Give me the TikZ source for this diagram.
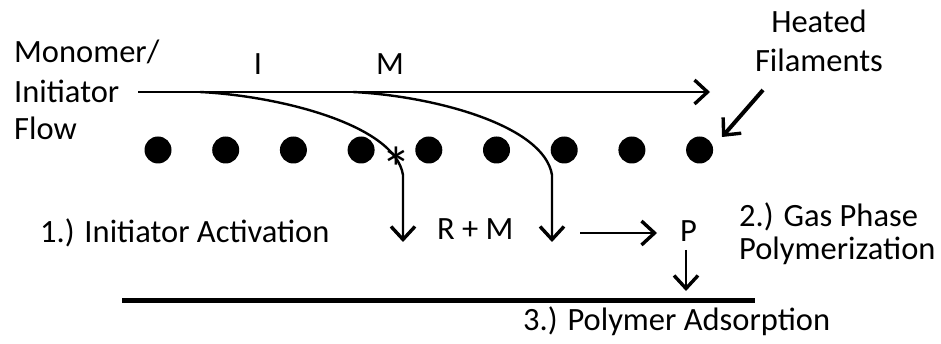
\documentclass[tikz,border=0pt]{standalone}
\usepackage{fontspec}
\setmainfont{Carlito}
\usetikzlibrary{arrows.meta}
\begin{document}
\begin{tikzpicture}[x=1pt,y=-1pt,
  lbl/.style={inner sep=0pt,font=\fontsize{32.5}{38}\selectfont},
  flow/.style={line width=2.4pt,-{Straight Barb[length=13pt,width=24pt,line width=3.4pt]}},
  fil/.style={circle,fill=black,minimum size=27pt,inner sep=0pt},
  sub/.style={line width=5pt}]
\useasboundingbox (0,0) rectangle (941,344);
% filaments
\foreach \i in {0,...,8} {
  \node[fil] (f\i) at ({158+67.7*\i},150) {};
}
% labels
\node[lbl,anchor=base west] (mono1) at (14,63) {Monomer/};
\node[lbl,anchor=base west] (mono2) at (14,103) {Initiator};
\node[lbl,anchor=base west] (mono3) at (14,140) {Flow};
\node[lbl,anchor=base] (I) at (258,75) {I};
\node[lbl,anchor=base] (M) at (390,75) {M};
\node[lbl,anchor=base] (heat1) at (819,33) {Heated};
\node[lbl,anchor=base] (heat2) at (819,72) {Filaments};
\node[lbl,anchor=base west] (step1) at (40,243) {1.) Initiator Activation};
\node[lbl,anchor=base west] (RM) at (437,240) {R + M};
\node[lbl,anchor=base west] (P) at (680,242) {P};
\node[lbl,anchor=base west] (step2a) at (739,227) {2.) Gas Phase};
\node[lbl,anchor=base west] (step2b) at (739,260) {Polymerization};
\node[lbl,anchor=base west] (step3) at (523,330) {3.) Polymer Adsorption};
\node[inner sep=0pt,font=\fontsize{60}{64}\selectfont,anchor=base] (ast) at (396,190) {*};
% coordinates
\coordinate (start) at (138,92);
\coordinate (end) at (710,92);
\coordinate (b1) at (200,92);
\coordinate (b2) at (353,92);
\coordinate (v1) at (403,175);
\coordinate (v2) at (552,175);
\coordinate (d1) at (403,242);
\coordinate (d2) at (552,242);
\coordinate (r1) at (580,233);
\coordinate (r2) at (657,233);
\coordinate (p1) at (686,250);
\coordinate (p2) at (686,291);
\coordinate (h1) at (763,90);
\coordinate (h2) at (722,137);
\coordinate (s1) at (122,300);
\coordinate (s2) at (755,300);
% connectors
\draw[flow] (start) -- (end);
\draw[flow] (b1) .. controls (280,96) and (395,125) .. (v1) -- (d1);
\draw[flow] (b2) .. controls (433,96) and (544,125) .. (v2) -- (d2);
\draw[flow] (r1) -- (r2);
\draw[flow] (p1) -- (p2);
\draw[flow,line width=4pt] (h1) -- (h2);
\draw[sub] (s1) -- (s2);
\end{tikzpicture}
\end{document}
